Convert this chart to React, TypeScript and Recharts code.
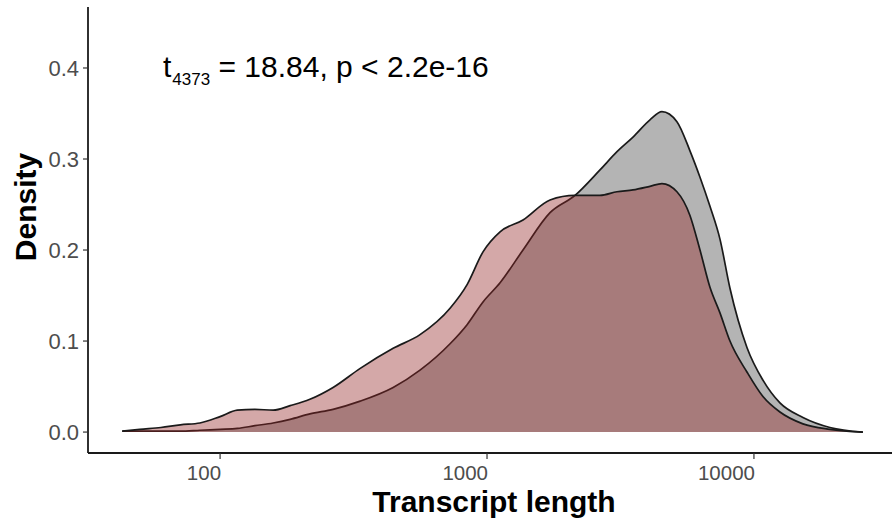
import { AreaChart, Area, XAxis, YAxis } from "recharts";

// transcript length (bp) sampled along the log axis
const lengths = [
  43, 50, 60, 71, 84, 100, 116, 135, 158, 183, 217, 265, 335, 445, 561, 727, 842, 966, 1119, 1364,
  1722, 2136, 2650, 3069, 3523, 4078, 4522, 5146, 5758, 6279, 6843, 7459, 8131, 9414, 10807,
  12514, 15259, 19259, 25594,
];

// grey group density
const greyDensity = [
  0.001, 0.001, 0.001, 0.001, 0.002, 0.003, 0.004, 0.007, 0.01, 0.014, 0.02, 0.025, 0.034, 0.049,
  0.068, 0.097, 0.118, 0.143, 0.164, 0.2, 0.241, 0.26, 0.288, 0.308, 0.324, 0.343, 0.352, 0.341,
  0.309, 0.28, 0.248, 0.212, 0.158, 0.093, 0.057, 0.032, 0.016, 0.005, 0.0,
];

// red group density
const redDensity = [
  0.001, 0.003, 0.005, 0.008, 0.01, 0.017, 0.024, 0.025, 0.024, 0.029, 0.036, 0.049, 0.07, 0.092,
  0.107, 0.136, 0.162, 0.198, 0.22, 0.233, 0.255, 0.26, 0.26, 0.264, 0.266, 0.27, 0.273, 0.264,
  0.238, 0.2, 0.159, 0.131, 0.1, 0.066, 0.039, 0.022, 0.009, 0.003, 0.0,
];

const xTicks = [100, 1000, 10000];
const yTicks = [0, 0.1, 0.2, 0.3, 0.4];

const FONT = '"Liberation Sans", Arial, sans-serif';

const data = lengths.map((len, i) => ({
  len,
  grey: greyDensity[i],
  red: redDensity[i],
}));

// x labels sit right-aligned against their tick, as in the original
function XTick(props: any) {
  const { x, y, payload } = props;
  return (
    <text
      x={x + 1}
      y={y}
      dy="0.71em"
      textAnchor="end"
      fontSize={20.5}
      fontFamily={FONT}
      fill="#4d4d4d"
    >
      {payload.value}
    </text>
  );
}

export default function App() {
  return (
    <div style={{ position: "absolute", left: 0, top: 0, width: 892, height: 522, background: "#fff" }}>
      <AreaChart
        width={892}
        height={522}
        data={data}
        margin={{ top: 7, right: 0, bottom: 0, left: 0 }}
      >
        <XAxis
          dataKey="len"
          type="number"
          scale="log"
          domain={[32, 32900]}
          ticks={xTicks}
          allowDataOverflow
          height={69}
          tickSize={6}
          tickMargin={6}
          axisLine={{ stroke: "#1a1a1a", strokeWidth: 1.8 }}
          tickLine={{ stroke: "#333", strokeWidth: 1.2 }}
          tick={<XTick />}
        />
        <YAxis
          type="number"
          domain={[-0.023, 0.467]}
          ticks={yTicks}
          allowDataOverflow
          width={88}
          tickSize={5}
          tickMargin={4}
          tickFormatter={(v: number) => v.toFixed(1)}
          axisLine={{ stroke: "#1a1a1a", strokeWidth: 1.8 }}
          tickLine={{ stroke: "#333", strokeWidth: 1.2 }}
          tick={{ fill: "#4d4d4d", fontSize: 22, fontFamily: FONT }}
        />
        <Area
          dataKey="grey"
          type="monotone"
          baseValue={0}
          fill="#b4b4b4"
          fillOpacity={1}
          stroke="#1a1a1a"
          strokeWidth={1.7}
          isAnimationActive={false}
          dot={false}
          activeDot={false}
        />
        <Area
          dataKey="red"
          type="monotone"
          baseValue={0}
          fill="#942626"
          fillOpacity={0.4}
          stroke="#1a1a1a"
          strokeWidth={1.7}
          isAnimationActive={false}
          dot={false}
          activeDot={false}
        />
      </AreaChart>
      <svg
        width={892}
        height={522}
        style={{ position: "absolute", left: 0, top: 0, pointerEvents: "none" }}
        fontFamily={FONT}
      >
        <text x={163} y={77} fontSize={30} fill="#000">
          <tspan>t</tspan>
          <tspan fontSize={17} dx={1} dy={8}>4373</tspan>
          <tspan dy={-8}>{" = 18.84, p < 2.2e-16"}</tspan>
        </text>
        <text
          x={494}
          y={512}
          fontSize={30}
          fontWeight="bold"
          textAnchor="middle"
          fill="#000"
        >
          Transcript length
        </text>
        <text
          x={36}
          y={207}
          fontSize={30}
          fontWeight="bold"
          textAnchor="middle"
          fill="#000"
          transform="rotate(-90 36 207)"
        >
          Density
        </text>
      </svg>
    </div>
  );
}
